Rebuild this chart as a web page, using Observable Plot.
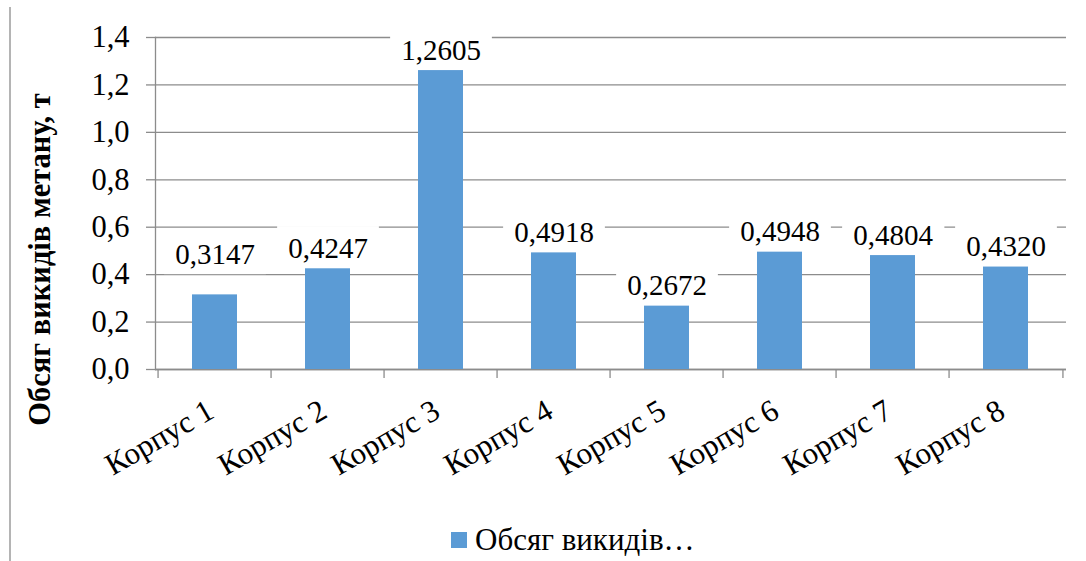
<!DOCTYPE html>
<html>
<head>
<meta charset="utf-8">
<script src="https://cdn.jsdelivr.net/npm/d3@7"></script>
<script src="https://cdn.jsdelivr.net/npm/@observablehq/plot@0.6"></script>
<style>
  html, body { margin: 0; padding: 0; background: #fff; }
  #wrap { position: relative; width: 1086px; height: 561px; overflow: hidden; font-family: "Liberation Serif", "Times New Roman", serif; }
  #frameline { position: absolute; left: 9px; top: 7px; bottom: 0; width: 2px; background: #b4b4b4; }
  #legend { position: absolute; left: 451px; top: 522px; display: flex; align-items: center; font-size: 31px; color: #000; }
  #legend .sw { width: 16px; height: 16px; background: #5b9bd5; margin-right: 8px; }
</style>
</head>
<body>
<div id="wrap">
  <div id="chart"></div>
  <div id="frameline"></div>
  <div id="legend"><span class="sw"></span><span>Обсяг викидів…</span></div>
</div>
<script>
// Корпуси та обсяг викидів метану, т
const categories = ["Корпус 1", "Корпус 2", "Корпус 3", "Корпус 4", "Корпус 5", "Корпус 6", "Корпус 7", "Корпус 8"];
const values = [0.3147, 0.4247, 1.2605, 0.4918, 0.2672, 0.4948, 0.4804, 0.4320];
const yTicks = [0, 0.2, 0.4, 0.6, 0.8, 1.0, 1.2, 1.4];
const yTitle = "Обсяг викидів метану, т";

const data = categories.map((name, i) => ({name, value: values[i]}));

const comma = (f) => (v) => d3.format(f)(v).replace(".", ",");

const W = 1086, H = 515;
const mL = 155, mR = 20, mT = 37, mB = 146;
const step = (W - mL - mR) / categories.length;
const barColor = "#5b9bd5";
const gridColor = "#8c8c8c";
const font = "'Liberation Serif', 'Times New Roman', serif";

const labelOpts = {
  x: "name", y: "value", text: (d) => comma(".4f")(d.value),
  fontSize: 29, fontFamily: font, fill: "black", className: "vlabel"
};
const firstLabel = data.filter((d) => d.name === categories[0]);
const otherLabels = data.filter((d) => d.name !== categories[0]);

const chart = Plot.plot({
  width: W, height: H,
  marginLeft: mL, marginRight: mR, marginTop: mT, marginBottom: mB,
  style: {fontFamily: font, background: "white", color: "black"},
  x: {domain: categories, paddingInner: 0.6, paddingOuter: 0.3, axis: null},
  y: {domain: [0, 1.4], axis: null},
  marks: [
    Plot.gridY(yTicks, {stroke: gridColor, strokeOpacity: 1, strokeWidth: 1.3}),
    Plot.axisY({ticks: yTicks, tickSize: 9, tickPadding: 17, tickFormat: comma(".1f"), label: null,
      stroke: gridColor, strokeWidth: 1.3, fontSize: 30.5, fontFamily: font, fill: "black"}),
    Plot.frame({anchor: "left", stroke: gridColor, strokeWidth: 1.3}),
    Plot.ruleY([0], {stroke: gridColor, strokeWidth: 1.3}),
    // category boundary ticks below the baseline
    Plot.ruleX(categories, {x: (d) => d, dx: -step / 2, insetTop: H - mT - mB, insetBottom: -9, stroke: gridColor, strokeWidth: 1.3}),
    Plot.ruleX(categories.slice(-1), {x: (d) => d, dx: step / 2, insetTop: H - mT - mB, insetBottom: -9, stroke: gridColor, strokeWidth: 1.3}),
    // value labels (white boxes are added behind them after rendering)
    Plot.text(otherLabels, {...labelOpts, dy: -20}),
    Plot.text(firstLabel, {...labelOpts, dy: -40}),
    Plot.barY(data, {x: "name", y: "value", fill: barColor}),
    // category labels
    Plot.text(categories, {x: (d) => d, frameAnchor: "bottom", rotate: -30, textAnchor: "end",
      dx: 1, dy: 47, fontSize: 31, fontFamily: font, fill: "black"}),
    // y-axis title
    Plot.text([yTitle], {frameAnchor: "left", textAnchor: "middle", rotate: -90, dx: -115, dy: 56,
      fontSize: 30.5, fontWeight: "bold", fontFamily: font, fill: "black"})
  ]
});

document.getElementById("chart").appendChild(chart);

// white box behind each value label, interrupting the grid lines
chart.querySelectorAll("g.vlabel text").forEach((t) => {
  const b = t.getBBox();
  const r = document.createElementNS("http://www.w3.org/2000/svg", "rect");
  r.setAttribute("x", b.x - 11);
  r.setAttribute("y", b.y - 6);
  r.setAttribute("width", b.width + 22);
  r.setAttribute("height", b.height + 10);
  r.setAttribute("fill", "white");
  const tr = t.getAttribute("transform");
  if (tr) r.setAttribute("transform", tr);
  t.parentNode.insertBefore(r, t);
});
</script>
</body>
</html>
